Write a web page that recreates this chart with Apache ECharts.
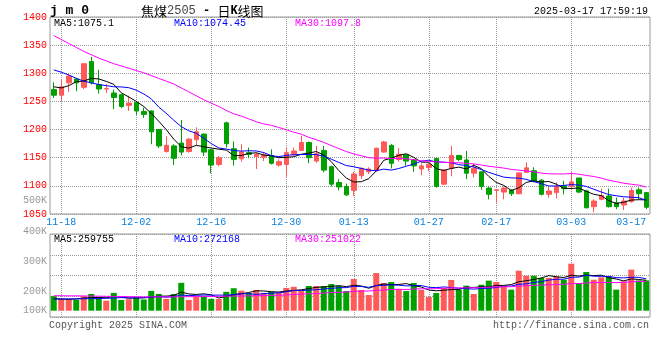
<!DOCTYPE html>
<html><head><meta charset="utf-8">
<script src="https://cdn.jsdelivr.net/npm/echarts@6/dist/echarts.min.js"></script>
<style>html,body{margin:0;padding:0;background:#fff}#c{width:660px;height:360px}</style>
</head><body><div id="c"></div>
<script>
// ---------- data ----------
const dates = ['11-15','11-18','11-19','11-20','11-21','11-22','11-25','11-26','11-27','11-28',
'11-29','12-02','12-03','12-04','12-05','12-06','12-09','12-10','12-11','12-12',
'12-13','12-16','12-17','12-18','12-19','12-20','12-23','12-24','12-25','12-26',
'12-27','12-30','12-31','01-02','01-03','01-06','01-07','01-08','01-09','01-10',
'01-13','01-14','01-15','01-16','01-17','01-20','01-21','01-22','01-23','01-24',
'01-27','02-05','02-06','02-07','02-10','02-11','02-12','02-13','02-14','02-17',
'02-18','02-19','02-20','02-21','02-24','02-25','02-26','02-27','02-28','03-03',
'03-04','03-05','03-06','03-07','03-10','03-11','03-12','03-13','03-14','03-17'];
const opens = [1271,1261,1283,1290,1275,1321,1280,1272,1265,1262,
1243,1248,1232,1233,1200,1161,1171,1176,1161,1182,
1192,1164,1138,1212,1166,1148,1159,1152,1151,1154,
1137,1138,1156,1163,1177,1144,1163,1134,1106,1099,
1092,1118,1125,1127,1160,1172,1147,1155,1146,1130,
1132.5,1148.5,1103,1131,1154,1146,1122.5,1125,1096,1092,
1089,1092,1086,1124,1127,1110,1085,1088,1100,1099,
1114,1091,1063,1076,1082,1070,1066,1072,1093,1088];
const closes = [1261,1276,1295,1283,1317,1283,1272,1273,1257,1241,
1247,1233,1227,1196,1171,1172,1149,1160,1183,1196,
1160,1137,1150,1175,1147,1160,1156,1156,1155,1140,
1143,1159,1162,1177,1150,1157,1128,1103,1098,1084,
1121,1131,1130,1167,1178,1140,1156,1144,1135.5,1135.5,
1138.5,1099,1128,1154,1147,1122.5,1131,1099,1085,1093,
1096,1086,1123,1132,1108,1085,1091,1099,1095,1107,
1089,1061,1073,1083,1063,1063,1073,1092,1086,1062];
const lows = [1256,1251,1267,1268,1272,1280,1264,1265,1236,1238,
1233,1226,1221,1174,1167,1159,1137,1154,1159,1172,
1153,1122,1135,1168,1136,1143,1149,1130,1144,1138,
1134,1116,1153,1162,1140,1141,1124,1099,1092,1082,
1082,1112,1121,1125,1159,1131,1143,1136,1125,1119,
1126,1097,1102,1117,1144,1112,1115,1093,1076,1070,
1076,1082,1085,1123,1106,1083,1079,1077.5,1085,1094,
1087,1060,1053,1074.5,1061.5,1058.6,1057,1070,1076,1058.6];
const highs = [1284,1289,1298,1292,1318,1329,1306,1281,1271,1263,
1260,1251,1239,1234,1201,1188,1174,1217,1185,1204,
1193,1165,1153,1214,1179,1174,1168,1159,1160,1165,
1147,1168,1168,1189,1179,1171,1171,1136,1112,1104,
1125,1133,1133,1168,1180,1174,1167,1156,1148,1140,
1141,1150,1130,1171,1155,1162,1139,1125,1099,1094,
1099,1094,1124,1142,1133,1112,1099,1106,1109,1125,
1114,1093,1076,1095,1095,1079,1079,1097,1097,1088.5];
const ma5 = [1276,1274,1278,1285,1286.4,1290.8,1290,1285.6,1280.4,1265.2,
1258,1250.2,1241,1228.8,1214.8,1199.8,1183,1169.6,1167,1172,
1169.6,1167.2,1165.2,1163.6,1153.8,1153.8,1157.6,1158.8,1154.8,1153.4,
1150,1150.6,1151.8,1156.2,1158.2,1161,1154.8,1143,1127.2,1114,
1106.8,1107.4,1112.8,1126.6,1145.4,1149.2,1154.2,1157,1150.7,1142.2,
1141.9,1130.5,1127.3,1131,1133.3,1130.1,1136.5,1130.7,1116.9,1106.1,
1100.8,1091.8,1096.6,1106,1109,1106.8,1107.8,1103,1095.6,1095.4,
1096.2,1090.2,1085,1082.6,1073.8,1068.6,1071,1074.8,1075.4,1075.1];
const ma10 = [1306,1302,1297,1291,1286,1283,1280,1278,1276,1275.8,
1274.4,1270.1,1263.3,1254.6,1240,1228.9,1216.6,1205.3,1197.9,1193.4,
1184.7,1175.1,1167.4,1165.3,1162.9,1161.7,1162.4,1162,1159.2,1153.6,
1151.9,1154.1,1155.3,1155.5,1155.8,1155.5,1152.7,1147.4,1141.7,1136.1,
1133.9,1131.1,1127.9,1126.9,1129.7,1128,1130.8,1134.9,1138.7,1143.8,
1145.6,1142.4,1142.2,1140.9,1137.8,1136,1133.5,1129,1124,1119.7,
1115.5,1114.2,1113.7,1111.5,1107.6,1103.8,1099.8,1099.8,1100.8,1102.2,
1101.5,1099,1094,1089.1,1084.6,1082.4,1080.6,1079.9,1079,1074.45];
const ma30 = [1367,1360,1353,1346,1339,1333,1327,1322,1317,1313,
1309,1305,1301,1296,1291,1286,1281,1274,1267,1260,
1253,1247,1241,1234,1228,1224,1219,1214,1210,1207.6,
1203.7,1199.8,1195.3,1191.8,1186.2,1182,1177.2,1171.6,1166.3,1161,
1156.8,1153.4,1150.2,1149.2,1149.5,1148.4,1148.6,1148.1,1146.5,1144.5,
1143.8,1142.5,1141.8,1141.1,1141.1,1139.8,1139,1137.1,1134.8,1133.2,
1131.6,1129.2,1127.9,1126.4,1125,1122.6,1121.4,1121.2,1121.1,1121.9,
1120.8,1118.5,1116.6,1113.8,1110,1107.4,1104.6,1102.9,1101.3,1097.8];
// volume, thousands of lots
const volumes = [124,100,100,92,124,143,107,86,152,92,
98,115,96,169,143,101,143,238,92,121,
127,101,100,161,192,171,152,177,152,161,
156,195,204,177,211,211,211,228,211,168,
271,177,134,322,237,245,186,168,237,177,
117,151,194,263,180,214,143,222,257,245,
214,180,342,299,299,280,280,293,265,402,
237,331,265,285,293,180,251,351,259,259];
const volMa5 = [103,100,97,100,108,111.8,113.2,110.4,122.4,116,
107,108.6,110.6,114,124.2,124.8,130.4,158.8,143.4,139,
144.2,135.8,108.2,122,136.2,145,155.2,170.6,168.8,162.6,
159.6,168.2,173.6,178.6,188.6,199.6,202.8,207.6,214.4,205.8,
217.8,211,192.2,214.4,228.2,223,224.8,231.6,214.6,202.6,
177,170,175.2,180.4,181,200.4,198.8,204.4,203.2,216.2,
216.2,223.6,247.6,256,266.8,280,300,290.2,283.4,304,
295.4,305.6,300,304,282.2,270.8,254.8,272,266.8,259.755];
const volMa10 = [100,100,101,101,102,103,104,106,108,112,
109.4,110.9,110.5,118.2,120.1,115.9,119.5,134.7,128.7,131.6,
134.5,133.1,133.5,132.7,137.6,144.6,145.5,139.4,145.4,149.4,
152.3,161.7,172.1,173.7,175.6,179.6,185.5,190.6,196.5,197.2,
208.7,206.9,199.9,214.4,217,220.4,217.9,211.9,214.5,215.4,
200,197.4,203.4,197.5,191.8,188.7,184.4,189.8,191.8,198.6,
208.3,211.2,226,229.6,241.5,248.1,261.8,268.9,269.7,285.4,
287.7,302.8,295.1,293.7,293.1,283.1,280.2,286,285.4,272.168];
const volMa30 = [128,128,127,127,126,125,124,123,122,121,
120,119,118,118,118,118,119,119,120,120,
121,122,123,124,125,126,127,128,130,131,
132.1,135.2,138.7,141.5,144.4,146.7,150.2,154.9,156.9,159.4,
165.2,167.2,168.5,173.6,176.7,181.5,183,180.6,185.5,187.3,
187,188.7,191.8,195.2,194.8,196.2,195.9,197.4,200.9,203.7,
205.7,205.2,209.8,213.8,216.8,219.1,221.4,223.5,225.3,233.1,
232,237.1,241.5,240.3,242.1,240,242.1,248.2,249,251.022];
const dateTicks = ['11-18','12-02','12-16','12-30','01-13','01-27','02-17','03-03','03-17'];
const priceMin = 1050, priceMax = 1400, priceStep = 50;
const volAxisLabels = ['500K','400K','300K','200K','100K'];
const priceLegend = ['MA5:1075.1','MA10:1074.45','MA30:1097.8'];
const volLegend = ['MA5:259755','MA10:272168','MA30:251022'];
const symbolText = 'j m 0';
const titleName = '焦煤', titleCode = '2505', titleDash = ' - ', titleDay = '日', titleK = 'K', titleEnd = '线图';
const stamp = '2025-03-17 17:59:19';
const copyright = 'Copyright 2025 SINA.COM';
const site = 'http://finance.sina.com.cn';

// ---------- chart ----------
const UP = '#FF5A5A', DOWN = '#00A000';
const MONO = '"Liberation Mono","DejaVu Sans Mono",monospace';
const legendColors = ['#000000', '#0000FF', '#FF00FF'];
const gridDates = dateTicks.slice(0, -1);
const dotted = { type: [1, 1], color: '#9a9a9a', width: 1 };
const volMin = -54, volMax = 656;

const candleData = dates.map((d, i) => [opens[i], closes[i], lows[i], highs[i]]);
const volData = volumes.map((v, i) => ({ value: v, itemStyle: { color: closes[i] >= opens[i] ? UP : DOWN } }));

function maLine(data, color, xi) {
  return { type: 'line', data: data, xAxisIndex: xi, yAxisIndex: xi, showSymbol: false, symbol: 'none',
    silent: true, lineStyle: { color: color, width: 1 }, itemStyle: { color: color }, z: 3 };
}
function catAxis(gi, withLabels) {
  return {
    type: 'category', gridIndex: gi, data: dates, boundaryGap: true,
    axisLine: { show: false }, axisTick: { show: false },
    axisLabel: withLabels ? { interval: (i, v) => dateTicks.includes(v), color: '#0A80E0',
      fontFamily: MONO, fontSize: 10, margin: 3, alignMaxLabel: 'right' } : { show: false },
    splitLine: { show: true, alignWithLabel: true, interval: (i, v) => gridDates.includes(v), lineStyle: dotted }
  };
}
function txt(x, y, text, fill, opts) {
  return Object.assign({ type: 'text', x: x, y: y, silent: true, z: 10,
    style: Object.assign({ text: text, fill: fill, font: '10px ' + MONO, verticalAlign: 'middle', align: 'left' }, opts || {}) });
}

const graphics = [
  txt(50, 11, symbolText, '#000', { font: 'bold 13px ' + MONO }),
  { type: 'text', x: 141, y: 11, silent: true, z: 10, style: {
      text: '{a|' + titleName + '}{b|' + titleCode + '}{m|' + titleDash + '}{a|' + titleDay + '}{m|' + titleK + '}{a|' + titleEnd + '}',
      verticalAlign: 'middle',
      rich: { a: { fontFamily: '"Noto Sans CJK SC"', fontSize: 13, fill: '#000' },
              b: { fontFamily: MONO, fontSize: 12, fill: '#444' },
              m: { fontFamily: MONO, fontSize: 12, fontWeight: 'bold', fill: '#000' } } } },
  txt(648, 11, stamp, '#000', { align: 'right' }),
  txt(49, 325, copyright, '#555'),
  txt(649, 325, site, '#555', { align: 'right' })
];
const legX = [54, 174, 295];
priceLegend.forEach((t, k) => graphics.push(txt(legX[k], 23, t, legendColors[k])));
volLegend.forEach((t, k) => graphics.push(txt(legX[k], 239, t, legendColors[k])));
const volLabelY = [200, 231, 261, 291, 310];
volAxisLabels.forEach((t, k) => graphics.push(txt(47, volLabelY[k], t, '#999', { align: 'right' })));

const option = {
  animation: false,
  backgroundColor: '#fff',
  grid: [
    { left: 50, top: 17, width: 600, height: 197, show: true, borderColor: '#999', borderWidth: 1, outerBoundsMode: 'none' },
    { left: 50, top: 234, width: 600, height: 83, show: true, borderColor: '#999', borderWidth: 1, outerBoundsMode: 'none' }
  ],
  xAxis: [catAxis(0, true), catAxis(1, false)],
  yAxis: [
    { type: 'value', gridIndex: 0, min: priceMin, max: priceMax, interval: priceStep,
      axisLine: { show: false }, axisTick: { show: false },
      axisLabel: { color: '#FF0000', fontFamily: MONO, fontSize: 10, margin: 3, formatter: (v) => String(v) },
      splitLine: { show: true, lineStyle: dotted } },
    { type: 'value', gridIndex: 1, min: volMin, max: volMax, interval: (volMax - volMin) / 4,
      axisLine: { show: false }, axisTick: { show: false }, axisLabel: { show: false },
      splitLine: { show: true, lineStyle: dotted } }
  ],
  series: [
    { type: 'candlestick', data: candleData, xAxisIndex: 0, yAxisIndex: 0, barWidth: 5, silent: true,
      itemStyle: { color: UP, color0: DOWN, borderColor: UP, borderColor0: DOWN, borderWidth: 1 } },
    maLine(ma5, '#000000', 0), maLine(ma10, '#0000FF', 0), maLine(ma30, '#FF00FF', 0),
    { type: 'bar', data: volData, xAxisIndex: 1, yAxisIndex: 1, barWidth: 6, silent: true },
    maLine(volMa5, '#000000', 1), maLine(volMa10, '#0000FF', 1), maLine(volMa30, '#FF00FF', 1)
  ],
  graphic: graphics
};
const chart = echarts.init(document.getElementById('c'), null, { renderer: 'canvas' });
chart.setOption(option);
</script></body></html>
